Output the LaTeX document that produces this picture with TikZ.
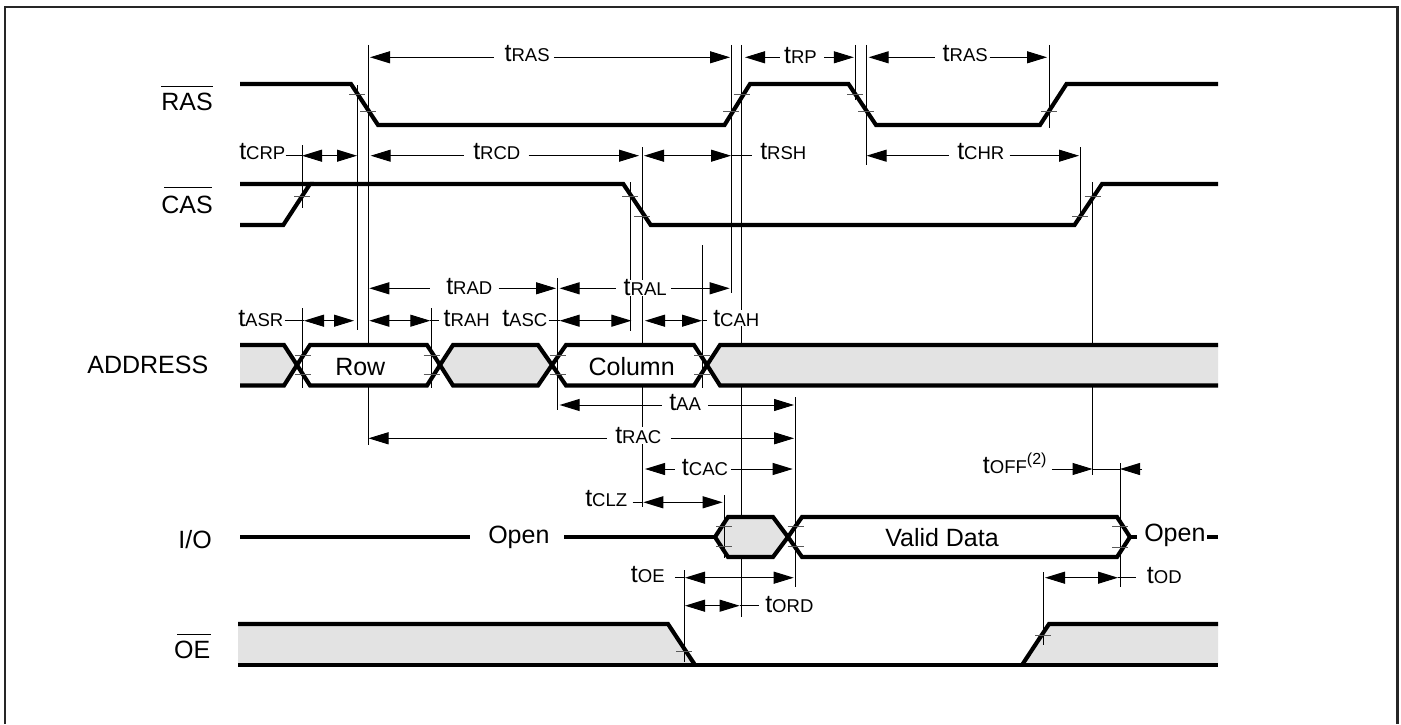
\documentclass[tikz,border=0pt]{standalone}
\usepackage{fontspec}
\setmainfont{Liberation Sans}
\usetikzlibrary{arrows.meta,calc}
\newcommand\fbig{\fontsize{18.75}{20}\selectfont}
\newcommand\fsub{\fontsize{13.9}{15}\selectfont}
\newcommand\fsup{\fontsize{12}{13}\selectfont}
\newcommand\Tm[1]{{\fbig t\fsub #1}}
\tikzset{
  wave/.style={line width=3.1pt,line join=miter,miter limit=4,black},
  fillgray/.style={fill=bandgray},
  vline/.style={line width=.75pt,black},
  tickm/.style={line width=.7pt,black!65},
  dimln/.style={line width=.75pt,black},
  atip/.tip={Triangle[length=15pt,width=9pt]},
  lab/.style={anchor=base west,inner sep=0pt,fill=white,font=\fbig},
  sig/.style={anchor=base east,inner sep=0pt,font=\fbig},
}
\definecolor{bandgray}{HTML}{E3E3E3}
\definecolor{framecol}{HTML}{262626}
% label inside a dimension line: name,x1,x2,y,gapL,gapR
\newcommand\DimM[6]{%
  \coordinate (#1-a) at (#2,#4);\coordinate (#1-b) at (#3,#4);
  \draw[dimln,{atip}-,shorten >=#5*.75pt] (#1-a) -- (#1.west |- #1-a);
  \draw[dimln,-{atip},shorten <=#6*.75pt] (#1.east |- #1-b) -- (#1-b);}
% dimension with arrows at both ends, label outside: name,x1,x2,y
\newcommand\DimO[4]{%
  \coordinate (#1-a) at (#2,#4);\coordinate (#1-b) at (#3,#4);
  \draw[dimln,{atip}-{atip}] (#1-a) -- (#1-b);}
\newcommand\TailL[2]{\draw[dimln,shorten <=#2*.75pt] (#1.east |- #1-a) -- (#1-a);}
\newcommand\TailR[2]{\draw[dimln,shorten >=#2*.75pt] (#1-b) -- (#1.west |- #1-b);}
\newcommand\VL[3]{\draw[vline] (#1,#2) -- (#1,#3);}
\newcommand\TK[2]{\draw[tickm] (#1-8,#2) -- (#1+8,#2);}
\begin{document}
\begin{tikzpicture}[x=.75pt,y=-.75pt]
\useasboundingbox (0,0) rectangle (1401,724);
\fill[white] (0,0) rectangle (1401,724);
% frame
\draw[line width=2.1pt,framecol] (5,724) -- (5,7) -- (1397.5,7) -- (1397.5,724);

% long vertical reference lines
\VL{368}{45}{445}
\VL{357}{85}{330}
\VL{302}{145}{208}
\VL{630}{182}{331}
\VL{642}{147}{507}
\VL{731}{45}{293}
\VL{741.5}{45}{617}
\VL{855}{45}{100}
\VL{866}{45}{165}
\VL{1049}{45}{128}
\VL{1080}{147}{220}
\VL{1092.5}{182}{475}

% labels
\node[lab] (rasA) at (504.3,61.7) {\Tm{RAS}};
\node[lab] (rp)   at (783.8,63.3) {\Tm{RP}};
\node[lab] (rasB) at (942.4,61.7) {\Tm{RAS}};
\node[lab] (crp)  at (239,159) {\Tm{CRP}};
\node[lab] (rcd)  at (473,159) {\Tm{RCD}};
\node[lab] (rsh)  at (760,159) {\Tm{RSH}};
\node[lab] (chr)  at (957,159) {\Tm{CHR}};
\node[lab] (rad)  at (446,294) {\Tm{RAD}};
\node[lab] (ral)  at (623.4,295.7) {\Tm{RAL}};
\node[lab] (asr)  at (238,326) {\Tm{ASR}};
\node[lab] (rah)  at (443.4,326) {\Tm{RAH}};
\node[lab] (asc)  at (502,326) {\Tm{ASC}};
\node[lab] (cah)  at (713,326) {\Tm{CAH}};
\node[lab] (aa)   at (669,410) {\Tm{AA}};
\node[lab] (rac)  at (615,443.3) {\Tm{RAC}};
\node[lab] (cac)  at (681.7,475.7) {\Tm{CAC}};
\node[lab] (clz)  at (585,506) {\Tm{CLZ}};
\node[lab] (oe)   at (630.7,582.7) {\Tm{OE}};
\node[lab] (ord)  at (765,612.7) {\Tm{ORD}};
\node[lab] (off)  at (982.7,473.3) {\Tm{OFF}\raisebox{6.5pt}{\fsup (2)}};
\node[lab] (od)   at (1146.7,583.3) {\Tm{OD}};

% dimension lines
\DimM{rasA}{370}{730}{57.3}{10}{4}
\DimM{rp}{745}{853.8}{57.3}{4}{7}
\DimM{rasB}{868.6}{1047}{57.3}{7.6}{1.5}
\DimO{crp}{302}{357}{155.7}\TailL{crp}{0}
\DimM{rcd}{370.7}{639}{155.7}{9}{8}
\DimO{rsh}{644}{731}{155.7}\TailR{rsh}{8}
\DimM{chr}{866.6}{1079}{155.7}{8}{5}
\DimM{rad}{369.3}{556}{288.3}{16}{6}
\DimM{ral}{559.6}{729.7}{288.3}{7}{4}
\DimO{asr}{304}{354}{320.7}\TailL{asr}{1}
\DimO{rah}{369.3}{430.3}{320.7}\TailR{rah}{4}
\DimO{asc}{559.6}{631.4}{320.7}\TailL{asc}{1}
\DimO{cah}{645}{702}{320.7}\TailR{cah}{6}
\DimM{aa}{559.6}{794}{405}{7}{7}
\DimM{rac}{368.5}{794}{438.3}{8}{9}
\DimM{cac}{645}{792.7}{469}{7}{3}
\DimO{clz}{643.3}{722.7}{502.3}\TailL{clz}{5}
\DimO{oe}{685}{793.7}{577.7}\TailL{oe}{10}
\DimO{ord}{685}{739.6}{605.7}\TailR{ord}{6}
\DimO{od}{1045}{1118}{577.7}\TailR{od}{11}
% tOFF: arrows from outside
\coordinate (off-a) at (1092.5,469);
\coordinate (off-b) at (1120,469);
\coordinate (off-c) at (1142,469);
\draw[dimln,-{atip},shorten <=5*.75pt] (off.east |- off-a) -- (off-a);
\draw[dimln] (off-a) -- (off-b);
\draw[dimln,-{atip}] (off-c) -- (off-b);

% waveforms
\draw[wave] (240,84) -- (351,84) -- (378,125) -- (724.5,125) -- (750,84) -- (848.5,84) -- (876,125) -- (1040,125) -- (1066.5,84) -- (1218,84);
\draw[wave] (240,225) -- (283.3,225) -- (310,184) -- (240,184);
\draw[wave] (310,184) -- (623.3,184) -- (650.7,225) -- (1074.5,225) -- (1102,184) -- (1218,184);

% address
\fill[bandgray] (240,345) -- (284,345) -- (297,365) -- (284,385.5) -- (240,385.5) -- cycle;
\filldraw[wave,fill=white] (297,365) -- (310,345) -- (427,345) -- (440,365) -- (427,385.5) -- (310,385.5) -- cycle;
\filldraw[wave,fill=bandgray] (440,365) -- (453,345) -- (538,345) -- (552,365) -- (538,385.5) -- (453,385.5) -- cycle;
\filldraw[wave,fill=white] (552,365) -- (566,345) -- (694,345) -- (707,365) -- (694,385.5) -- (566,385.5) -- cycle;
\fill[bandgray] (707,365) -- (720,345) -- (1218,345) -- (1218,385.5) -- (720,385.5) -- cycle;
\draw[wave] (240,345) -- (284,345) -- (297,365) -- (284,385.5) -- (240,385.5);
\draw[wave] (1218,345) -- (720,345) -- (707,365) -- (720,385.5) -- (1218,385.5);

% I/O
\draw[wave] (240,537) -- (470,537);
\draw[wave] (564,537) -- (715,537);
\filldraw[wave,fill=bandgray] (715,537) -- (728,517) -- (773,517) -- (788,537) -- (773,557) -- (728,557) -- cycle;
\filldraw[wave,fill=white] (788,537) -- (802,517) -- (1117,517) -- (1130,537) -- (1117,557) -- (802,557) -- cycle;
\draw[wave] (1130,537) -- (1137,537);
\draw[wave] (1207,537) -- (1218,537);

% OE
\fill[bandgray] (238,624) -- (668,624) -- (695,665) -- (238,665) -- cycle;
\fill[bandgray] (1022,665) -- (1049,624) -- (1218,624) -- (1218,665) -- cycle;
\draw[wave] (238,624) -- (668,624) -- (695,665);
\draw[wave] (238,665) -- (1218,665);
\draw[wave] (1022,665) -- (1049,624) -- (1218,624);

% short vertical lines over the waves
\VL{302.5}{308}{388}
\VL{431.5}{308}{388}
\VL{557.5}{278}{410}
\VL{702}{245}{388}
\VL{724.3}{495}{558}
\VL{795.5}{397}{587}
\VL{1120}{463}{587}
\VL{684}{570}{662}
\VL{1043.3}{572}{645}

% threshold ticks
\TK{357}{94.5}\TK{368}{111}\TK{731}{111}\TK{741.5}{94.5}\TK{855}{94.5}\TK{866}{111}\TK{1049}{111}
\TK{302}{196}\TK{630}{196}\TK{642}{216}\TK{1080}{216}\TK{1092.5}{196}
\TK{302.5}{355.7}\TK{302.5}{374}\TK{431.5}{355.7}\TK{431.5}{374}
\TK{557.5}{355.7}\TK{557.5}{374}\TK{702}{355.7}\TK{702}{374}
\TK{724.3}{526}\TK{724.3}{546}\TK{795.5}{526}\TK{795.5}{546}\TK{1120}{526}\TK{1120}{547}
\TK{684}{651}\TK{1043.3}{635}

% wave texts
\node[anchor=base west,inner sep=0pt,font=\fbig] (row) at (335,375) {Row};
\node[anchor=base west,inner sep=0pt,font=\fbig] (col) at (588.3,375) {Column};
\node[anchor=base west,inner sep=0pt,font=\fbig] (vd) at (885,546.5) {Valid Data};
\node[anchor=base west,inner sep=0pt,font=\fbig] (opA) at (488,543) {Open};
\node[anchor=base west,inner sep=0pt,font=\fbig] (opB) at (1144,541) {Open};

% signal names
\node[sig] (sras) at (213,110.7) {RAS};
\node[sig] (scas) at (213,213) {CAS};
\node[sig] (sadr) at (208.5,373) {ADDRESS};
\node[sig] (sio) at (212,548) {I/O};
\node[sig] (soe) at (210.5,658) {OE};
\draw[line width=.75pt] (sras.west |- 0,86) -- (sras.east |- 0,86);
\draw[line width=.75pt] (164,187.7) -- (212,187.7);
\draw[line width=.75pt] (177,634) -- (210.5,634);
\end{tikzpicture}
\end{document}
